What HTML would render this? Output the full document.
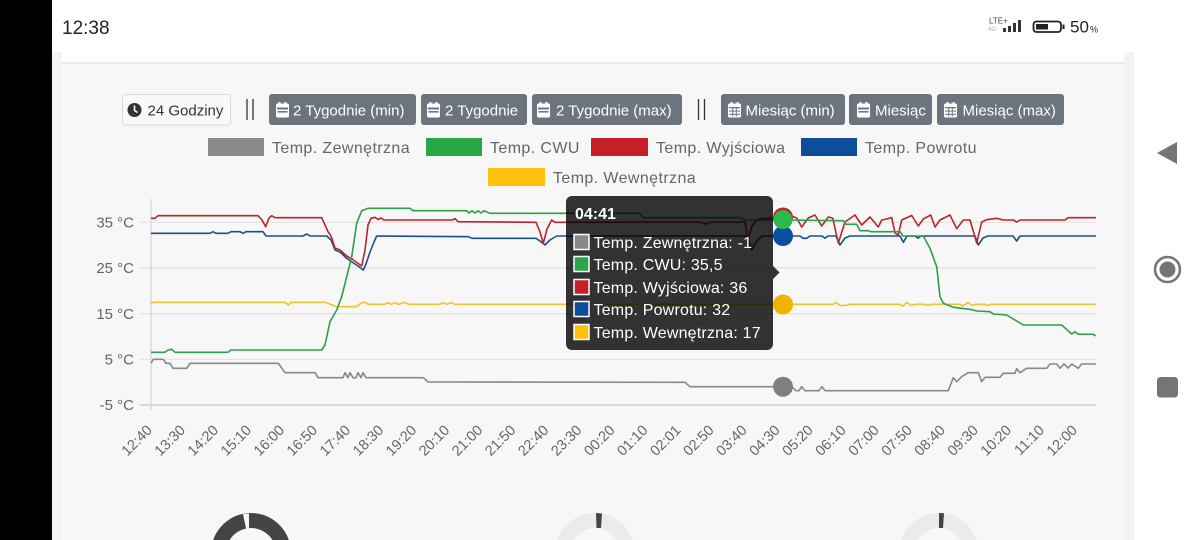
<!DOCTYPE html>
<html><head><meta charset="utf-8"><style>
html,body{margin:0;padding:0;background:#fff;width:1200px;height:540px;overflow:hidden}
svg{display:block}
text{font-family:"Liberation Sans",sans-serif}
</style></head><body>
<svg width="1200" height="540" viewBox="0 0 1200 540" xmlns="http://www.w3.org/2000/svg">
<rect x="0" y="0" width="1200" height="540" fill="#fff"/>
<rect x="0" y="0" width="52" height="540" fill="#000"/>
<!-- status bar -->
<text x="62" y="34" font-size="19" fill="#222">12:38</text>
<text x="989" y="23.5" font-size="8" fill="#444">LTE+</text>
<text x="988" y="31" font-size="6" fill="#aaa">4G</text>
<g fill="#333">
<rect x="1003" y="28" width="3" height="4"/>
<rect x="1008" y="26" width="3" height="6"/>
<rect x="1013" y="23" width="3" height="9"/>
<rect x="1018" y="20" width="3" height="12"/>
</g>
<rect x="1033.5" y="21.5" width="27.5" height="10.5" rx="3" fill="none" stroke="#222" stroke-width="1.8"/>
<rect x="1036" y="24" width="12" height="5.5" fill="#222"/>
<rect x="1062.5" y="24.5" width="2" height="4.5" fill="#222"/>
<text x="1070" y="32.5" font-size="17" fill="#222">50</text>
<text x="1090" y="32.5" font-size="9" fill="#222">%</text>

<!-- side strips -->
<rect x="52" y="52" width="10" height="488" fill="#f1f3f6"/>
<rect x="1124" y="52" width="10" height="488" fill="#f1f3f6"/>
<!-- card -->
<rect x="62" y="52" width="1062" height="11" fill="#fff"/>
<rect x="62" y="63" width="1062" height="477" fill="#f7f7f7"/>
<line x1="62" y1="63" x2="1124" y2="63" stroke="#e6e6e6" stroke-width="1.5"/>

<!-- nav bar -->
<polygon points="1157,153 1177,142 1177,164" fill="#757575"/>
<circle cx="1167.5" cy="269.5" r="12.5" fill="none" stroke="#757575" stroke-width="2.5"/>
<circle cx="1167.5" cy="269.5" r="8" fill="#757575"/>
<rect x="1157" y="377" width="21" height="20.5" rx="3.5" fill="#757575"/>

<!-- buttons -->
<rect x="122.5" y="94.5" width="108" height="30.5" rx="3" fill="#f8f9fa" stroke="#dcdcdc"/>
<circle cx="134.5" cy="110" r="7" fill="#333"/>
<path d="M134.5 105.5 V110.5 L137.5 112.5" stroke="#fff" stroke-width="1.6" fill="none"/>
<text x="147.5" y="115.5" font-size="15" fill="#333">24 Godziny</text>

<g stroke="#333" stroke-width="1.3">
<line x1="247" y1="99" x2="247" y2="120"/><line x1="253" y1="99" x2="253" y2="120"/>
<line x1="698.5" y1="99" x2="698.5" y2="120"/><line x1="704.5" y1="99" x2="704.5" y2="120"/>
</g>

<g fill="#6c757d">
<rect x="269" y="94" width="147" height="31" rx="3"/>
<rect x="421" y="94" width="106" height="31" rx="3"/>
<rect x="532" y="94" width="150" height="31" rx="3"/>
<rect x="721" y="94" width="124" height="31" rx="3"/>
<rect x="849" y="94" width="83" height="31" rx="3"/>
<rect x="937" y="94" width="127" height="31" rx="3"/>
</g>
<g fill="#fff">
<g transform="translate(276,102)"><rect x="0" y="1.5" width="13" height="14" rx="1.5"/><rect x="2.5" y="0" width="2" height="3"/><rect x="8.5" y="0" width="2" height="3"/><rect x="1" y="5.5" width="11" height="2" fill="#6c757d"/><rect x="1.5" y="9" width="10" height="1.6" fill="#6c757d"/></g>
<g transform="translate(427,102)"><rect x="0" y="1.5" width="13" height="14" rx="1.5"/><rect x="2.5" y="0" width="2" height="3"/><rect x="8.5" y="0" width="2" height="3"/><rect x="1" y="5.5" width="11" height="2" fill="#6c757d"/><rect x="1.5" y="9" width="10" height="1.6" fill="#6c757d"/></g>
<g transform="translate(537,102)"><rect x="0" y="1.5" width="13" height="14" rx="1.5"/><rect x="2.5" y="0" width="2" height="3"/><rect x="8.5" y="0" width="2" height="3"/><rect x="1" y="5.5" width="11" height="2" fill="#6c757d"/><rect x="1.5" y="9" width="10" height="1.6" fill="#6c757d"/></g>
<g transform="translate(857,102)"><rect x="0" y="1.5" width="13" height="14" rx="1.5"/><rect x="2.5" y="0" width="2" height="3"/><rect x="8.5" y="0" width="2" height="3"/><rect x="1" y="5.5" width="11" height="2" fill="#6c757d"/><rect x="1.5" y="9" width="10" height="1.6" fill="#6c757d"/></g>
<g transform="translate(728,102)"><rect x="0" y="1.5" width="13" height="14" rx="1.5"/><rect x="2.5" y="0" width="2" height="3"/><rect x="8.5" y="0" width="2" height="3"/><g fill="#6c757d"><rect x="1" y="5" width="11" height="1.3"/><rect x="1" y="8.6" width="11" height="1"/><rect x="1" y="11.8" width="11" height="1"/><rect x="4.2" y="5" width="1" height="9.5"/><rect x="7.8" y="5" width="1" height="9.5"/></g></g>
<g transform="translate(944,102)"><rect x="0" y="1.5" width="13" height="14" rx="1.5"/><rect x="2.5" y="0" width="2" height="3"/><rect x="8.5" y="0" width="2" height="3"/><g fill="#6c757d"><rect x="1" y="5" width="11" height="1.3"/><rect x="1" y="8.6" width="11" height="1"/><rect x="1" y="11.8" width="11" height="1"/><rect x="4.2" y="5" width="1" height="9.5"/><rect x="7.8" y="5" width="1" height="9.5"/></g></g>
</g>
<g font-size="15" fill="#fff">
<text x="293" y="115.5">2 Tygodnie (min)</text>
<text x="445" y="115.5">2 Tygodnie</text>
<text x="556" y="115.5">2 Tygodnie (max)</text>
<text x="745.5" y="115.5">Miesiąc (min)</text>
<text x="875" y="115.5">Miesiąc</text>
<text x="962.5" y="115.5">Miesiąc (max)</text>
</g>

<!-- legend -->
<rect x="208" y="138" width="56" height="18" fill="#8a8a8a"/>
<rect x="426" y="138" width="56" height="18" fill="#2aa645"/>
<rect x="591" y="138" width="57" height="18" fill="#c42026"/>
<rect x="801" y="138" width="56" height="18" fill="#0e4d9a"/>
<rect x="488" y="168" width="57" height="18" fill="#fdc10e"/>
<g font-size="16" fill="#666" letter-spacing="0.4">
<text x="272" y="153">Temp. Zewnętrzna</text>
<text x="490" y="153">Temp. CWU</text>
<text x="656" y="153">Temp. Wyjściowa</text>
<text x="865" y="153">Temp. Powrotu</text>
<text x="553" y="183">Temp. Wewnętrzna</text>
</g>

<!-- grid -->
<g stroke="#e2e2e2" stroke-width="1.2">
<line x1="140" y1="222.3" x2="1096" y2="222.3"/>
<line x1="140" y1="268" x2="1096" y2="268"/>
<line x1="140" y1="313.6" x2="1096" y2="313.6"/>
<line x1="140" y1="359.3" x2="1096" y2="359.3"/>
</g>
<line x1="140" y1="405" x2="1096" y2="405" stroke="#cfcfcf" stroke-width="1.5"/>
<line x1="151" y1="199" x2="151" y2="410" stroke="#d8d8d8" stroke-width="1.3"/>
<g font-size="15" fill="#666" text-anchor="end">
<text x="134" y="227.5">35 °C</text>
<text x="134" y="273.2">25 °C</text>
<text x="134" y="318.8">15 °C</text>
<text x="134" y="364.5">5 °C</text>
<text x="134" y="410.2">-5 °C</text>
</g>

<!-- x labels -->
<g font-size="14.5" fill="#666" text-anchor="end">
<text transform="translate(153,431) rotate(-45)">12:40</text>
<text transform="translate(186.04,431) rotate(-45)">13:30</text>
<text transform="translate(219.08,431) rotate(-45)">14:20</text>
<text transform="translate(252.12,431) rotate(-45)">15:10</text>
<text transform="translate(285.16,431) rotate(-45)">16:00</text>
<text transform="translate(318.2,431) rotate(-45)">16:50</text>
<text transform="translate(351.24,431) rotate(-45)">17:40</text>
<text transform="translate(384.28,431) rotate(-45)">18:30</text>
<text transform="translate(417.32,431) rotate(-45)">19:20</text>
<text transform="translate(450.36,431) rotate(-45)">20:10</text>
<text transform="translate(483.4,431) rotate(-45)">21:00</text>
<text transform="translate(516.44,431) rotate(-45)">21:50</text>
<text transform="translate(549.48,431) rotate(-45)">22:40</text>
<text transform="translate(582.52,431) rotate(-45)">23:30</text>
<text transform="translate(615.56,431) rotate(-45)">00:20</text>
<text transform="translate(648.6,431) rotate(-45)">01:10</text>
<text transform="translate(681.64,431) rotate(-45)">02:01</text>
<text transform="translate(714.68,431) rotate(-45)">02:50</text>
<text transform="translate(747.72,431) rotate(-45)">03:40</text>
<text transform="translate(780.76,431) rotate(-45)">04:30</text>
<text transform="translate(813.8,431) rotate(-45)">05:20</text>
<text transform="translate(846.84,431) rotate(-45)">06:10</text>
<text transform="translate(879.88,431) rotate(-45)">07:00</text>
<text transform="translate(912.92,431) rotate(-45)">07:50</text>
<text transform="translate(945.96,431) rotate(-45)">08:40</text>
<text transform="translate(979,431) rotate(-45)">09:30</text>
<text transform="translate(1012.04,431) rotate(-45)">10:20</text>
<text transform="translate(1045.08,431) rotate(-45)">11:10</text>
<text transform="translate(1078.12,431) rotate(-45)">12:00</text>
</g>

<!-- series -->
<g fill="none" stroke-width="1.6" stroke-linejoin="round">
<polyline stroke="#f2c12e" points="151,304 153,302.3 285,302.3 288.3,305 291,302.3 325,302.3 331,304.5 336.7,306.7 356.7,306.7 361,303 365,302.3 368,304.3 385,304.3 388,302.5 391,304.3 395,302.5 398,304.3 405,302.5 409,304.3 440,304.3 443,302.5 447,304.3 451,302.5 455,304.3 783,304.3 833,304.3 836,302.5 840,305.5 846,305.5 849,304.3 900,304.3 903,306 907,302.5 911,305.5 915,304.3 925,304.3 928,305.5 931,304.3 960,304.3 963,306 968,302.5 972,305.5 976,304.3 985,304.3 988,305.5 991,304.3 1096,304.3"/>
<polyline stroke="#1a4f8f" points="151,233.3 210,233.3 213,231.7 216,233.3 228,233.3 231,231.7 240,231.7 243,233.3 246,231.7 263,231.7 266,236 303,236 306.7,234 310,236 326.7,236 331,240 335,250 340,252 346.7,258.3 352,262 358,266 363.3,270 366,264 370,252 374,242 376.7,236 468.3,236.7 472,238.3 536,238.3 540,241 545,245 550,240 556.7,236 745,236 748,238 751.7,250 756,242 762,236 783,236 800,236 803,238.3 806.7,238.3 810,236 822,236 825,238.3 828,236 836,236 840,245 845,238 850,236 900,236 903.3,242.3 907,236 915,236 918,238.3 921,236 975,236 978.3,245 983,238 988,236 1013,236 1016.7,241 1020,236 1096,236"/>
<polyline stroke="#b8262b" points="151,218.3 155,218.3 158,215.7 258,215.7 262,220 265.7,226.7 269,218 271.7,215.7 275,217.7 321.7,217.7 328,231.7 331,236 335,248 340,250 346.7,256 352,259 361.7,266 365,250 368,225 371,218.3 375,217.3 378,219.5 381,218 384,220 452,220 455,218.7 458,221.7 536,222.3 540,232 543.3,243.3 547,229 551.7,220 555,222.3 700,222 705,224 712,222 745,222 748,240 752,226 758,219 770,218 783,217.7 793.3,216.7 796.7,218 801.7,227 808.3,218 815,215 821.7,226 828.3,217 832.7,218 838.3,243 845,222 855,215 861.7,225 870,217 878.3,227 881.7,220 886.7,219 891.7,217.5 895,233 898.3,235 901.7,220 911.7,215.5 918.3,226 923.3,219 930.7,215 935,227 940,220 950,215 956.7,228.7 963.3,220 970,220 976.7,243 981.7,222 986.7,219.7 996.7,218.3 1003.3,220 1013.3,220 1016.7,222 1020,220 1065,220 1068,217.7 1096,217.7"/>
<polyline stroke="#2e9e4a" points="151,352.3 165,352.3 168,350 171.7,349.3 175,352.3 228,352.3 231,350 321.7,350 325,345 330,321.7 336.7,310 341.7,296.7 346.7,276.7 351.7,256.7 356.7,223.3 361.7,210.7 368.3,208.3 410,208.3 413,210.7 466.7,210.7 469,213 472,210.7 475,213 478,210.7 481,213 484,210.7 490,213.3 640,213.3 643,217.7 740,217.7 745,220 783,220 843.3,220.7 846,224.3 856.7,224.3 860,230.7 868.3,230.7 871,231.7 900,231.7 903,236 923.3,236 930,248.3 936.7,266.7 940,296.7 943.3,303.3 953.3,307.3 970,309.3 976.7,311 990,311.7 993.3,314 1006.7,315 1023.3,325 1061.7,325 1071.7,334 1075,331.7 1078.3,334.3 1093.3,334.3 1095.7,336"/>
<polyline stroke="#888" points="151,363.3 153.3,359.3 163.3,359.3 166,363.3 170,363.3 173,368.3 186.7,368.3 190,363.3 278.3,363.3 285,372.7 315,372.7 318,377.7 343,377.7 345,372.7 348,377.7 350,372.7 353,377.7 356,377.7 358,372.7 361,377.7 363,372.7 366,377.7 423.3,377.7 428,382 685,382.3 690,386.7 791.7,386.7 796,390.7 799,390.7 801.7,386.7 805,390.7 819,390.7 822,386.7 825,390.7 948.3,390.7 953.3,377.7 956.7,381.7 961.7,376.7 968.3,372.7 978.3,372.7 981.7,381.7 985,377.3 1000,377.3 1003.3,373.3 1015,373.3 1016.7,368.7 1020,372.7 1026.7,368.3 1046.7,368.3 1050,364 1056.7,364 1060,368.3 1064,364 1068.3,368 1071.7,364 1078.3,368.3 1081.7,364 1096,364"/>
</g>

<!-- hover points -->
<circle cx="783" cy="386.7" r="10" fill="#808080"/>
<circle cx="783" cy="304.5" r="10" fill="#f0b400"/>
<circle cx="783" cy="236" r="10" fill="#0b4fa0"/>
<circle cx="783" cy="217.5" r="10" fill="#c42026"/>
<circle cx="783" cy="219.6" r="9.5" fill="#2db84a"/>

<!-- tooltip -->
<rect x="566" y="196" width="207" height="154" rx="6" fill="rgba(0,0,0,0.8)"/>
<polygon points="773,266 779.5,272.5 773,279" fill="rgba(0,0,0,0.8)"/>
<text x="575" y="219" font-size="16" font-weight="bold" fill="#fff">04:41</text>
<g stroke="#fff" stroke-width="1.5">
<rect x="574" y="234.5" width="15" height="15" fill="#888"/>
<rect x="574" y="256.5" width="15" height="15" fill="#2aa645"/>
<rect x="574" y="279.5" width="15" height="15" fill="#c42026"/>
<rect x="574" y="301.5" width="15" height="15" fill="#0e4d9a"/>
<rect x="574" y="324.5" width="15" height="15" fill="#fdc10e"/>
</g>
<g font-size="16" fill="#fff" letter-spacing="0.2">
<text x="593.5" y="248">Temp. Zewnętrzna: -1</text>
<text x="593.5" y="270">Temp. CWU: 35,5</text>
<text x="593.5" y="293">Temp. Wyjściowa: 36</text>
<text x="593.5" y="315">Temp. Powrotu: 32</text>
<text x="593.5" y="338">Temp. Wewnętrzna: 17</text>
</g>

<!-- gauges (visible top portions only) -->
<path d="M213.17 540 A40 40 0 0 1 288.83 540 L272.35 540 A25 25 0 0 0 229.65 540 Z" fill="#444"/>
<path d="M243 514 L249 513.5 L249 528.5 L246 528.5 Z" fill="#f7f7f7"/>
<path d="M557.17 540 A40 40 0 0 1 632.83 540 L616.35 540 A25 25 0 0 0 573.65 540 Z" fill="#ebebeb"/>
<path d="M596 513 L602 513.5 L601 528 L596.5 528 Z" fill="#444"/>
<path d="M901.17 540 A40 40 0 0 1 976.83 540 L960.35 540 A25 25 0 0 0 917.65 540 Z" fill="#ebebeb"/>
<path d="M939 513 L944 513.3 L943 528 L939 528 Z" fill="#444"/>
</svg>
</body></html>
